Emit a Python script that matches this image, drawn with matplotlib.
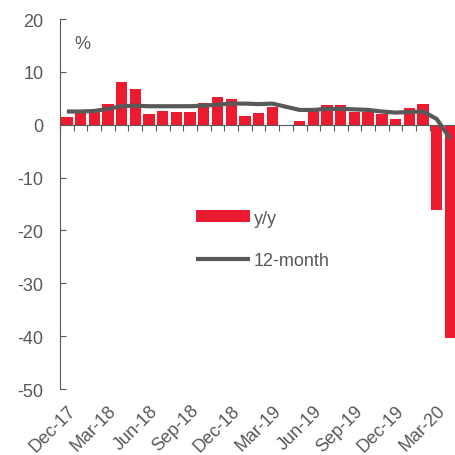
import matplotlib.pyplot as plt
import numpy as np

plt.rcParams['font.family'] = ['Liberation Sans', 'DejaVu Sans']
plt.rcParams['axes.unicode_minus'] = False

# monthly data, Dec-17 .. Apr-20
months = ['Dec-17', 'Jan-18', 'Feb-18', 'Mar-18', 'Apr-18', 'May-18', 'Jun-18',
          'Jul-18', 'Aug-18', 'Sep-18', 'Oct-18', 'Nov-18', 'Dec-18', 'Jan-19',
          'Feb-19', 'Mar-19', 'Apr-19', 'May-19', 'Jun-19', 'Jul-19', 'Aug-19',
          'Sep-19', 'Oct-19', 'Nov-19', 'Dec-19', 'Jan-20', 'Feb-20', 'Mar-20',
          'Apr-20']
yy = [1.4, 2.8, 2.5, 3.9, 8.0, 6.7, 2.1, 2.6, 2.5, 2.5, 4.1, 5.2, 4.8, 1.7,
      2.2, 3.4, 0.0, 0.7, 2.6, 3.8, 3.7, 2.5, 2.5, 2.0, 1.1, 3.1, 3.9, -16.2,
      -40.4]
twelve_month = [2.5, 2.5, 2.6, 3.0, 3.5, 3.6, 3.5, 3.5, 3.5, 3.5, 3.6, 3.8,
                4.0, 4.0, 3.9, 4.0, 3.4, 2.8, 2.8, 3.0, 3.0, 2.9, 2.8, 2.5,
                2.3, 2.4, 2.5, 1.1, -2.7]
label_months = ['Dec-17', 'Mar-18', 'Jun-18', 'Sep-18', 'Dec-18', 'Mar-19',
                'Jun-19', 'Sep-19', 'Dec-19', 'Mar-20']

red = '#ED1B2F'
grey = '#595959'
txt = '#595959'
fs = 13

fig = plt.figure(figsize=(4.56, 4.56), dpi=100)
ax = fig.add_axes([0.1316, 0.1447, 0.871, 0.8114])

x = np.arange(len(months))
bars = ax.bar(x, yy, width=0.83, color=red, label='y/y', zorder=2)
line, = ax.plot(x, twelve_month, color=grey, lw=3, label='12-month',
                zorder=3, solid_capstyle='butt')

ax.set_xlim(-0.5, len(months) - 0.5)
ax.set_ylim(-50, 20)
ax.set_yticks(range(-50, 21, 10))
ax.tick_params(axis='y', direction='in', length=4, color=grey,
               labelsize=fs, labelcolor=txt, pad=12)

for s in ['top', 'right']:
    ax.spines[s].set_visible(False)
ax.spines['left'].set_color(grey)
ax.spines['bottom'].set_color(grey)
ax.spines['bottom'].set_position(('data', 0))

# ticks between categories on the zero line
ax.set_xticks(np.arange(-0.5, len(months) - 0.4, 1))
ax.set_xticklabels([])
ax.tick_params(axis='x', direction='out', length=4, color=grey)

# month labels at the bottom
sec = ax.secondary_xaxis(0.0)
sec.spines['bottom'].set_visible(False)
sec.set_xticks([months.index(m) for m in label_months])
sec.set_xticklabels(label_months, rotation=45, ha='right',
                    rotation_mode='anchor')
sec.tick_params(axis='x', length=0, labelsize=fs, labelcolor=txt, pad=9)

ax.text(0.035, 0.935, '%', transform=ax.transAxes, fontsize=fs, color=txt,
        va='center', ha='left')

ax.legend([bars, line], ['y/y', '12-month'], loc='center',
          bbox_to_anchor=(0.51, 0.405), frameon=False,
          fontsize=fs, labelcolor=txt, handlelength=3.0, handleheight=0.6,
          labelspacing=1.4, handletextpad=0.2)

fig.savefig('out.png', dpi=100)
